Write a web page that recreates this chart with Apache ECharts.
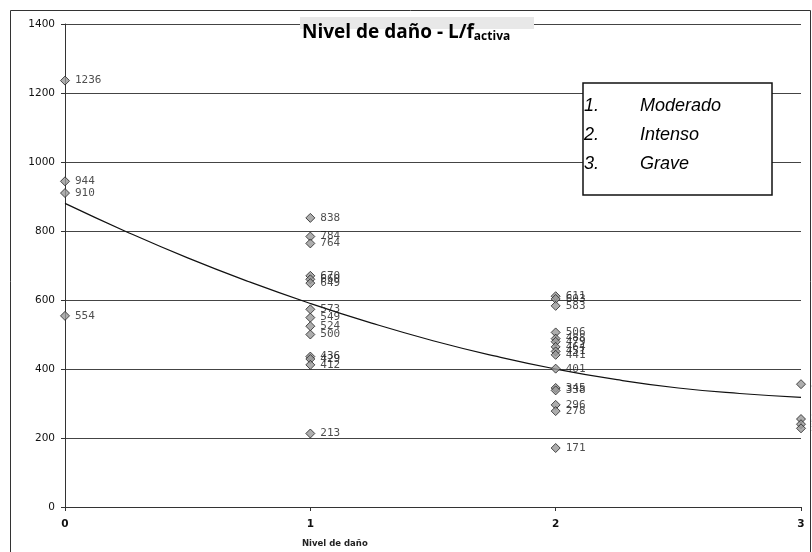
<!DOCTYPE html>
<html>
<head>
<meta charset="utf-8">
<script src="https://cdn.jsdelivr.net/npm/echarts@6/dist/echarts.min.js"></script>
<style>html,body{margin:0;padding:0;background:#fff}#c{width:812px;height:552px}</style>
</head>
<body>
<div id="c"></div>
<script>
// Data
const level0 = [1236, 944, 910, 554];
const level1 = [838, 784, 764, 670, 660, 649, 573, 549, 524, 500, 436, 429, 412, 213];
const level2 = [611, 603, 583, 506, 488, 479, 464, 451, 441, 401, 345, 338, 296, 278, 171];
const level3 = [356, 255, 240, 228];
const trendX = [0, 0.25, 0.5, 0.75, 1, 1.25, 1.5, 1.75, 2, 2.25, 2.5, 2.75, 3];
const trendY = [880, 798, 722, 653, 590, 533, 482, 438, 400, 369, 345, 329, 318];
const yTicks = [0, 200, 400, 600, 800, 1000, 1200, 1400];
const xTicks = [0, 1, 2, 3];
const legendItems = [['1.', 'Moderado'], ['2.', 'Intenso'], ['3.', 'Grave']];

const points = [];
[level0, level1, level2, level3].forEach((arr, lvl) => arr.forEach(v => points.push([lvl, v])));
const trend = trendX.map((x, i) => [x, trendY[i]]);

const chart = echarts.init(document.getElementById('c'));
const legendGraphics = [];
legendItems.forEach((it, i) => {
  legendGraphics.push({type: 'text', left: 584, top: 97 + i * 29, style: {text: it[0], font: 'italic 18px "Liberation Sans", Arial', fill: '#000'}});
  legendGraphics.push({type: 'text', left: 640, top: 97 + i * 29, style: {text: it[1], font: 'italic 18px "Liberation Sans", Arial', fill: '#000'}});
});

chart.setOption({
  animation: false,
  backgroundColor: '#fff',
  grid: {left: 65, right: 11, top: 24, bottom: 45},
  xAxis: {
    type: 'value', min: 0, max: 3, interval: 1,
    axisLine: {show: true, onZero: false, lineStyle: {color: '#333', width: 1}},
    axisTick: {show: true, length: 4, lineStyle: {color: '#333'}},
    axisLabel: {color: '#111', fontSize: 10.5, fontWeight: 'bold', fontFamily: 'DejaVu Sans', margin: 12,
      formatter: v => xTicks.includes(v) ? String(v) : ''},
    splitLine: {show: false}
  },
  yAxis: {
    type: 'value', min: 0, max: 1400, interval: 200,
    axisLine: {show: true, lineStyle: {color: '#333', width: 1}},
    axisTick: {show: true, length: 4, lineStyle: {color: '#333'}},
    axisLabel: {color: '#111', fontSize: 10.5, fontFamily: 'DejaVu Sans', margin: 10,
      formatter: v => yTicks.includes(v) ? String(v) : ''},
    splitLine: {show: true, lineStyle: {color: '#444', width: 1}}
  },
  series: [
    {
      type: 'line', data: trend, smooth: true, showSymbol: false, symbol: 'none',
      lineStyle: {color: '#111', width: 1.2}, z: 3, silent: true
    },
    {
      type: 'scatter', data: points, symbol: 'diamond', symbolSize: 9,
      itemStyle: {color: '#999', borderColor: '#222', borderWidth: 1}, z: 4,
      label: {show: true, position: 'right', distance: 5, color: '#222', fontSize: 11,
        fontFamily: 'DejaVu Sans Mono', formatter: p => String(p.value[1])},
      labelLayout: {hideOverlap: false}
    }
  ],
  graphic: [
    {type: 'rect', shape: {x: 10.5, y: 10.5, width: 800, height: 560}, style: {fill: 'none', stroke: '#333', lineWidth: 1}, z: 0},
    {type: 'rect', shape: {x: 300, y: 17, width: 234, height: 12}, style: {fill: '#e8e8e8'}, z: 1},
    {type: 'text', left: 302, top: 23, style: {
      rich: {a: {font: 'bold 19px "Open Sans", "Liberation Sans"', fill: '#000'},
             b: {font: 'bold 12px "Open Sans", "Liberation Sans"', fill: '#000', verticalAlign: 'bottom', padding: [9, 0, 0, 0]}},
      text: '{a|Nivel de daño - L/f}{b|activa}'}, z: 10},
    {type: 'rect', shape: {x: 583, y: 83, width: 189, height: 112}, style: {fill: '#fff', stroke: '#111', lineWidth: 1.5}, z: 10},
    ...legendGraphics.map(g => Object.assign(g, {z: 11})),
    {type: 'text', left: 302, top: 539, style: {text: 'Nivel de daño', font: 'bold 8.5px "DejaVu Sans"', fill: '#222'}, z: 10}
  ]
});
</script>
</body>
</html>
